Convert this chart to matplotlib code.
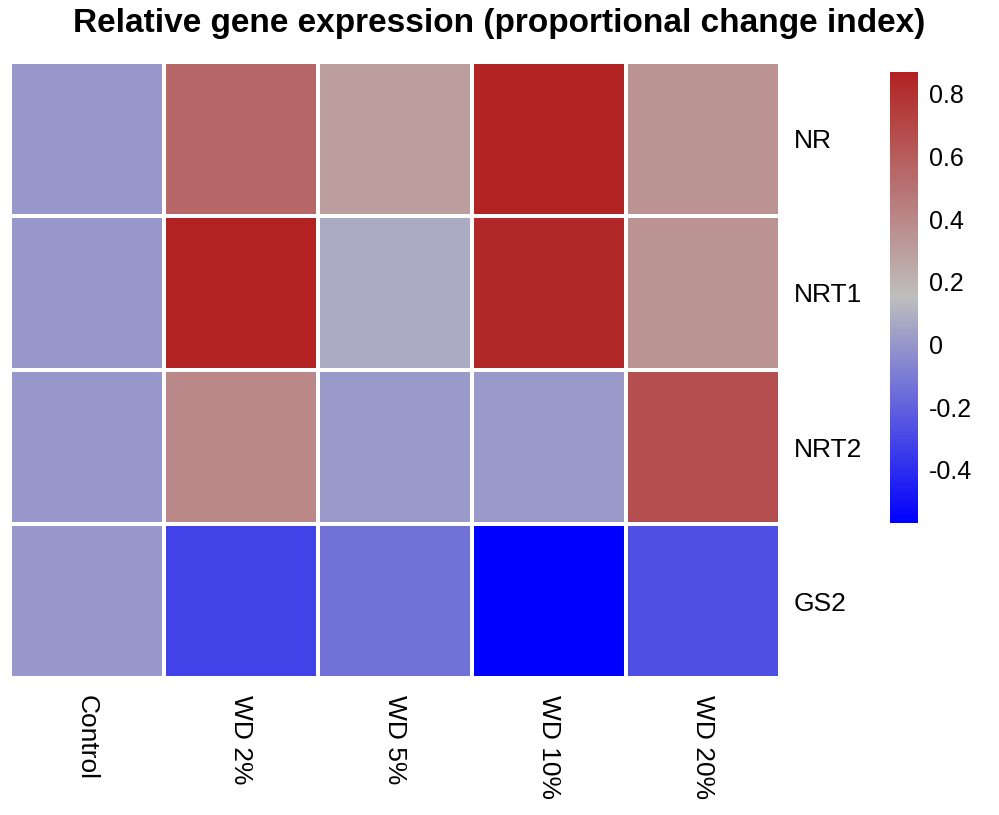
"""Heatmap of relative gene expression (proportional change index)."""
import numpy as np
import matplotlib.pyplot as plt
from matplotlib.colors import LinearSegmentedColormap

plt.rcParams["font.family"] = ["Liberation Sans", "DejaVu Sans"]

GENES = ["NR", "NRT1", "NRT2", "GS2"]
TREATMENTS = ["Control", "WD 2%", "WD 5%", "WD 10%", "WD 20%"]
VALUES = np.array([
    [0.0, 0.55, 0.30, 0.86, 0.35],
    [0.0, 0.87, 0.08, 0.84, 0.35],
    [0.0, 0.40, 0.01, 0.01, 0.66],
    [0.0, -0.32, -0.14, -0.57, -0.27],
])


def main():
    vmin, vmax = VALUES.min(), VALUES.max()
    mid = (0.15 - vmin) / (vmax - vmin)
    cmap = LinearSegmentedColormap.from_list(
        "bgr", [(0.0, "#0000ff"), (mid, "#bebebe"), (1.0, "#b22222")])

    fig = plt.figure(figsize=(9.99, 8.15), dpi=100)
    ax = fig.add_axes([0.010, 0.168, 0.771, 0.756])
    im = ax.pcolormesh(VALUES, cmap=cmap, vmin=vmin, vmax=vmax,
                       edgecolor="white", linewidth=1.5)
    ax.set_ylim(len(GENES), 0)
    ax.set_xlim(0, len(TREATMENTS))
    for s in ax.spines.values():
        s.set_visible(False)
    ax.tick_params(length=0, labelsize=19)
    ax.yaxis.tick_right()
    ax.set_yticks(np.arange(len(GENES)) + 0.5, GENES)
    ax.set_xticks(np.arange(len(TREATMENTS)) + 0.5, TREATMENTS, rotation=270,
                  va="top")
    ax.tick_params(axis="y", pad=10)
    ax.tick_params(axis="x", pad=12)

    cax = fig.add_axes([0.891, 0.358, 0.028, 0.554])
    cb = fig.colorbar(im, cax=cax, ticks=[-0.4, -0.2, 0, 0.2, 0.4, 0.6, 0.8])
    cb.ax.set_yticklabels(["-0.4", "-0.2", "0", "0.2", "0.4", "0.6", "0.8"])
    cb.outline.set_visible(False)
    cb.ax.tick_params(length=0, labelsize=18, pad=8)

    fig.suptitle("Relative gene expression (proportional change index)",
                 x=0.5, y=0.99, fontsize=24, fontweight="bold")
    fig.savefig("out.png", dpi=100)
    plt.close(fig)


if __name__ == "__main__":
    main()
